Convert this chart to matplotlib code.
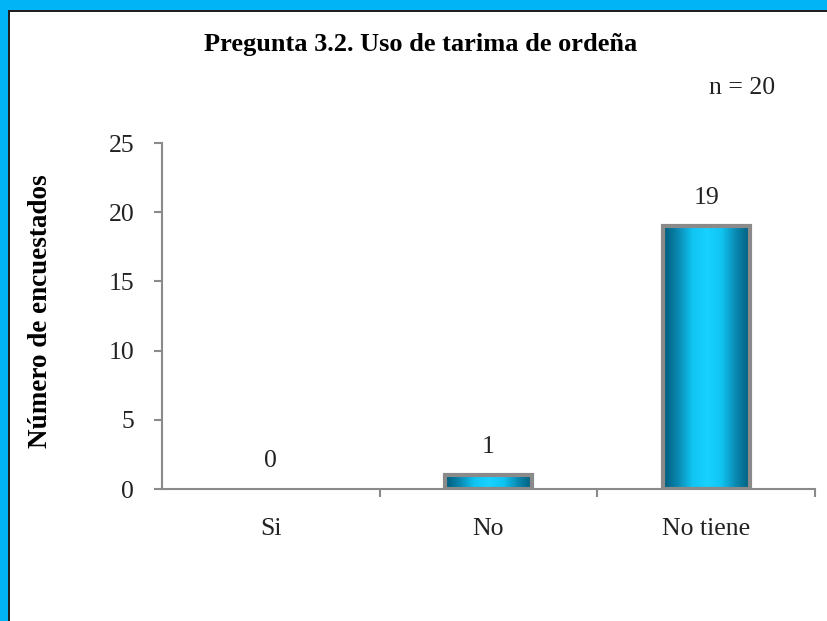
import matplotlib
matplotlib.use("Agg")
import matplotlib.pyplot as plt
import numpy as np
from matplotlib.patches import Rectangle
from matplotlib.colors import LinearSegmentedColormap

categories = ["Si", "No", "No tiene"]
values = [0, 1, 19]
yticks = [0, 5, 10, 15, 20, 25]
title = "Pregunta 3.2. Uso de tarima de ordeña"
ylabel = "Número de encuestados"
note = "n = 20"

plt.rcParams['font.family'] = ['Liberation Serif', 'DejaVu Serif']
FS = 18.5

fig = plt.figure(figsize=(8.27, 6.21), dpi=100)
fig.patch.set_facecolor("white")

# blue frame top and left
fig.add_artist(Rectangle((0, 1 - 10/621), 1, 10/621, transform=fig.transFigure,
                         facecolor="#00B4F5", edgecolor="none", zorder=0))
fig.add_artist(Rectangle((0, 0), 8/827, 1, transform=fig.transFigure,
                         facecolor="#00B4F5", edgecolor="none", zorder=0))
fig.add_artist(Rectangle((8/827, 1 - 12/621), 1, 2/621, transform=fig.transFigure,
                         facecolor="#202020", edgecolor="none", zorder=1))
fig.add_artist(Rectangle((8/827, 0), 2/827, 1 - 10/621, transform=fig.transFigure,
                         facecolor="#202020", edgecolor="none", zorder=1))

ax = fig.add_axes([162/827, 1 - 489/621, (815 - 162)/827, (489 - 143)/621])
x = np.arange(len(categories))
width = 0.4

cmap = LinearSegmentedColormap.from_list(
    "cyl", ["#005a78", "#0a88b0", "#10c4f2", "#18d2ff", "#10c4f2", "#0a88b0", "#005a78"])
grad = np.linspace(0, 1, 256).reshape(1, -1)

bars = ax.bar(x, values, width=width, facecolor="none", edgecolor="#8a8a8a",
              linewidth=3, zorder=3)
for b, v in zip(bars, values):
    if v <= 0:
        b.set_visible(False)
        continue
    x0, w, h = b.get_x(), b.get_width(), b.get_height()
    im = ax.imshow(grad, cmap=cmap, aspect="auto", extent=[x0, x0 + w, 0, h],
                   zorder=2, interpolation="bicubic")
    im.set_clip_path(b)
ax.set_xlim(-0.5, len(categories) - 0.5)
ax.set_ylim(0, 25)

for xi, v in zip(x, values):
    ax.text(xi, v + 1.25, str(v), ha="center", va="bottom", fontsize=FS, color="#222222")

for s in ["top", "right"]:
    ax.spines[s].set_visible(False)
for s in ["left", "bottom"]:
    ax.spines[s].set_color("#8a8a8a")
    ax.spines[s].set_linewidth(1.5)

ax.set_yticks(yticks)
ax.set_yticklabels([str(t) for t in yticks], fontsize=FS, color="#222222")
ax.set_xticks([0.5, 1.5, 2.5])
ax.set_xticklabels([])
ax.set_xticks(x, minor=True)
ax.set_xticklabels(categories, minor=True, fontsize=FS, color="#222222")
ax.tick_params(axis="x", which="major", direction="out", length=6, color="#8a8a8a", width=1.5)
ax.tick_params(axis="x", which="minor", length=0, pad=21)
ax.tick_params(axis="y", direction="out", length=6, color="#8a8a8a", width=1.5, pad=14)

ax.set_ylabel(ylabel, fontsize=19.5, fontweight="bold")
ax.yaxis.set_label_coords((53 - 162) / (815 - 162), 0.515)

fig.text(421/827, 1 - 45/621, title, ha="center", va="center", fontsize=19, fontweight="bold")
fig.text(742/827, 1 - 88/621, note, ha="center", va="center", fontsize=FS, color="#222222")

fig.savefig("out.png", dpi=100)
